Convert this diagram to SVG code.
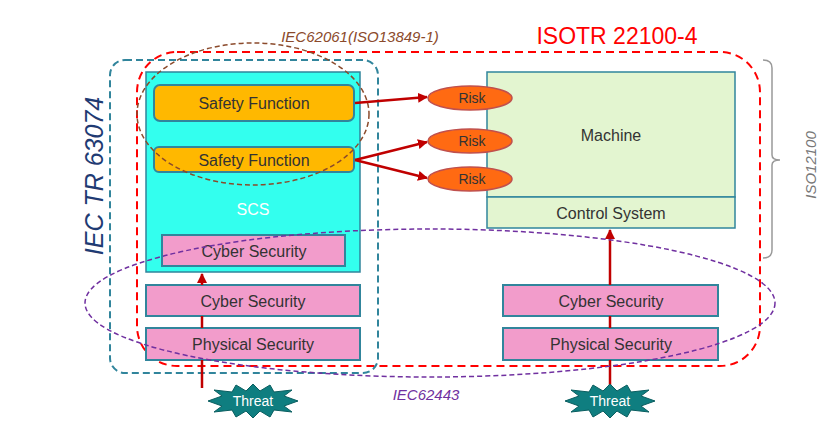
<svg xmlns="http://www.w3.org/2000/svg" width="833" height="430" viewBox="0 0 833 430">
<defs>
<style>
text{font-family:"Liberation Sans",Arial,sans-serif;text-anchor:middle;dominant-baseline:central}
.sf{fill:#FFB800;stroke:#31859C;stroke-width:2}
.pk{fill:#F29CCB;stroke:#31859C;stroke-width:2}
.rk{fill:#FF6A12;stroke:#C0504D;stroke-width:1.5}
.lb{font-size:16px;fill:#333}
.ar{stroke:#C00000;stroke-width:2.5;fill:none}
.th{fill:#0F7E80;stroke:#0A5E60;stroke-width:1}
</style>
<marker id="ah" viewBox="0 0 10 10" refX="9" refY="5" markerWidth="4" markerHeight="4" orient="auto"><path d="M0,0L10,5L0,10z" fill="#C00000"/></marker>
</defs>
<rect x="137" y="52" width="623" height="314" rx="40" fill="none" stroke="#FF0000" stroke-width="2" stroke-dasharray="8,5"/>
<rect x="110" y="60" width="268" height="313" rx="15" fill="none" stroke="#31859C" stroke-width="2" stroke-dasharray="7,4"/>
<path d="M763,60 Q772,60 772,68 L772,155 Q772,160 780,160 Q772,160 772,165 L772,250 Q772,258 763,258" fill="none" stroke="#999" stroke-width="1.5"/>
<g id="scs"><rect x="146" y="72" width="214" height="200" fill="#33FFEE" stroke="#31859C" stroke-width="1.5"/><text x="253" y="209" font-size="16" fill="#fff">SCS</text></g>
<g id="machine"><rect x="487" y="72" width="248" height="125" fill="#E3F5D0" stroke="#31859C" stroke-width="1.5"/><text x="611" y="135" class="lb">Machine</text></g>
<g id="control"><rect x="487" y="197" width="248" height="31" fill="#E3F5D0" stroke="#31859C" stroke-width="1.5"/><text x="611" y="213" class="lb">Control System</text></g>
<g id="sf1"><rect x="154" y="85" width="200" height="36" rx="6" class="sf"/><text x="254" y="103" class="lb">Safety Function</text></g>
<g id="sf2"><rect x="154" y="147" width="200" height="25" rx="5" class="sf"/><text x="254" y="160" class="lb">Safety Function</text></g>
<g id="cs1"><rect x="162" y="235" width="183" height="31" class="pk"/><text x="254" y="251" class="lb">Cyber Security</text></g>
<g id="cs2"><rect x="146" y="285" width="214" height="31" class="pk"/><text x="253" y="301" class="lb">Cyber Security</text></g>
<g id="ps1"><rect x="146" y="328" width="214" height="32" class="pk"/><text x="253" y="344" class="lb">Physical Security</text></g>
<g id="cs3"><rect x="503" y="285" width="215" height="31" class="pk"/><text x="611" y="301" class="lb">Cyber Security</text></g>
<g id="ps2"><rect x="503" y="328" width="215" height="32" class="pk"/><text x="611" y="344" class="lb">Physical Security</text></g>
<g id="risk1"><ellipse cx="470" cy="98" rx="42" ry="12" class="rk"/><text x="472" y="98" font-size="14" fill="#333">Risk</text></g>
<g id="risk2"><ellipse cx="470" cy="141" rx="42" ry="12" class="rk"/><text x="472" y="141" font-size="14" fill="#333">Risk</text></g>
<g id="risk3"><ellipse cx="470" cy="179" rx="42" ry="12" class="rk"/><text x="472" y="179" font-size="14" fill="#333">Risk</text></g>
<g id="connectors">
<line x1="355" y1="103" x2="427" y2="97" class="ar" marker-end="url(#ah)"/>
<line x1="355" y1="160" x2="427" y2="142" class="ar" marker-end="url(#ah)"/>
<line x1="355" y1="160" x2="427" y2="178" class="ar" marker-end="url(#ah)"/>
<line x1="202" y1="388" x2="202" y2="360" class="ar"/>
<line x1="202" y1="328" x2="202" y2="316" class="ar"/>
<line x1="202" y1="285" x2="202" y2="274" class="ar" marker-end="url(#ah)"/>
<line x1="610" y1="388" x2="610" y2="360" class="ar"/>
<line x1="610" y1="328" x2="610" y2="316" class="ar"/>
<line x1="610" y1="285" x2="610" y2="230" class="ar" marker-end="url(#ah)"/>
</g>
<ellipse cx="253" cy="114" rx="116" ry="71" fill="none" stroke="#8B4A2B" stroke-width="1.5" stroke-dasharray="5,3"/>
<ellipse cx="430" cy="303" rx="345" ry="74" fill="none" stroke="#7030A0" stroke-width="1.5" stroke-dasharray="5,3"/>
<g id="threat1"><polygon class="th" points="208,401 222,396 214,390 232,392 236,385 246,391 253,384 260,391 270,385 274,392 292,390 284,396 298,401 284,406 292,412 274,410 270,417 260,411 253,418 246,411 236,417 232,410 214,412 222,406"/><text x="253" y="401" font-size="14" fill="#fff">Threat</text></g>
<g id="threat2"><polygon class="th" points="565,401 579,396 571,390 589,392 593,385 603,391 610,384 617,391 627,385 631,392 649,390 641,396 655,401 641,406 649,412 631,410 627,417 617,411 610,418 603,411 593,417 589,410 571,412 579,406"/><text x="610" y="401" font-size="14" fill="#fff">Threat</text></g>
<text x="360" y="36" font-size="15" font-style="italic" fill="#8B4A2B">IEC62061(ISO13849-1)</text>
<text x="617" y="36" font-size="23" fill="#FF0000">ISOTR 22100-4</text>
<text x="0" y="0" font-size="25" font-style="italic" fill="#1F3B73" transform="translate(94,176) rotate(-90)">IEC TR 63074</text>
<text x="0" y="0" font-size="15" font-style="italic" fill="#777" transform="translate(810,165) rotate(-90)">ISO12100</text>
<text x="426" y="394" font-size="15" font-style="italic" fill="#7030A0">IEC62443</text>
</svg>
